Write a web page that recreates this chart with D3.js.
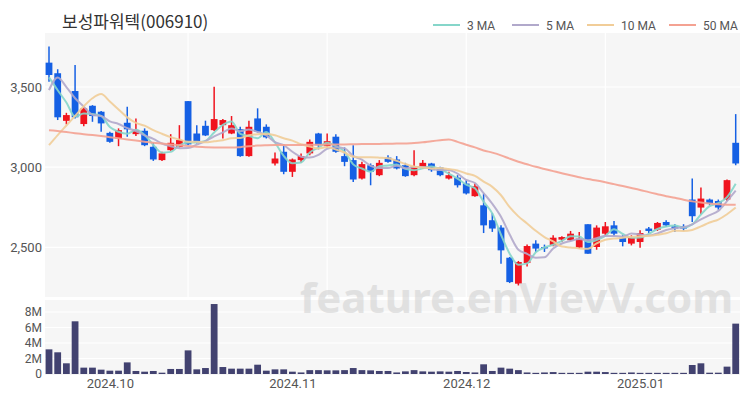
<!DOCTYPE html>
<html><head><meta charset="utf-8">
<script src="https://cdn.jsdelivr.net/npm/d3@7"></script>
<style>body{margin:0;background:#fff}svg{display:block}</style>
</head><body><svg id="c" width="750" height="400"></svg>
<script>
const title = "보성파워텍(006910)";
const openV  = [3652,3586,3289,3475,3269,3383,3346,3214,3179,3277,3206,3227,3127,3044,3106,3127,3412,3210,3258,3231,3262,3210,3237,3069,3304,3252,3023,3096,2971,3044,3086,3210,3131,3190,3069,3044,2929,3012,2950,3060,3048,3012,2950,3002,3023,2998,2929,2935,2898,2819,2762,2669,2623,2435,2273,2402,2523,2502,2512,2548,2544,2498,2644,2502,2585,2637,2560,2523,2533,2617,2610,2658,2631,2631,2798,2748,2798,2789,2798,3152];
const highV  = [3752,3611,3339,3637,3381,3387,3350,3221,3242,3377,3304,3242,3152,3096,3206,3262,3412,3262,3290,3502,3300,3319,3252,3290,3367,3267,3092,3144,3054,3086,3173,3214,3210,3206,3123,3137,3033,3023,3044,3075,3069,3027,3106,3044,3027,3002,2971,2950,2919,2898,2836,2714,2637,2440,2415,2517,2544,2517,2575,2569,2602,2596,2644,2637,2658,2664,2575,2575,2606,2627,2658,2669,2644,2644,2929,2873,2804,2798,2923,3331];
const lowV   = [3533,3294,3267,3304,3256,3283,3221,3152,3131,3189,3194,3131,3039,3039,3102,3123,3138,3148,3194,3225,3179,3206,3065,3065,3215,3179,3011,2956,2939,3027,3075,3111,3123,3090,3006,2908,2923,2887,2944,3027,2986,2940,2944,2992,2971,2944,2923,2873,2829,2815,2589,2596,2398,2277,2262,2381,2471,2471,2506,2533,2539,2492,2460,2485,2575,2569,2506,2512,2498,2589,2602,2627,2596,2602,2658,2706,2762,2735,2789,3012];
const closeV = [3575,3311,3325,3311,3367,3319,3273,3158,3231,3236,3231,3137,3048,3086,3152,3169,3142,3152,3198,3300,3294,3262,3069,3252,3221,3186,3054,2971,3048,3069,3158,3137,3162,3096,3033,2923,3019,2971,3027,3033,2992,2944,3006,3027,2981,2950,2950,2887,2836,2881,2637,2617,2481,2283,2408,2508,2492,2496,2560,2564,2585,2554,2460,2623,2631,2585,2533,2560,2589,2602,2652,2637,2617,2617,2694,2804,2773,2748,2919,3023];
const volumeM = [3.18,2.8,1.38,6.8,0.82,0.82,0.56,0.43,0.43,1.5,0.39,0.3,0.39,0.17,0.65,0.65,3.05,0.6,0.77,9.03,0.9,0.69,0.69,0.69,1.2,0.43,0.6,0.6,0.3,0.2,0.5,0.5,0.47,0.47,0.5,0.77,0.5,0.47,0.39,0.39,0.2,0.34,0.5,0.34,0.3,0.34,0.3,0.39,0.26,0.2,1.25,0.39,0.82,0.69,0.5,0.2,0.15,0.2,0.25,0.15,0.15,0.15,0.3,0.3,0.25,0.15,0.15,0.2,0.15,0.15,0.15,0.15,0.15,0.15,1.16,1.38,0.17,0.17,0.95,6.5];
// moving-average values before a full window exists
const ma3Lead  = [3560,3480];
const ma5Lead  = [3481,3560,3500,3430];
const ma10Lead = [3137,3200,3260,3320,3380,3430,3456,3410,3360];
const ma50Lead = [3231,3225,3219,3212,3206,3200,3194,3187,3180,3173,3166,3159,3152,3147,3142,3137,3132,3127,3125,3123,3122,3122,3125,3130,3135,3137,3138,3138,3138,3139,3140,3140,3141,3142,3142,3143,3144,3144,3145,3146,3147,3148,3150,3155,3162,3168,3172,3158,3140];
const maPeriods = [3,5,10,50];
const maLabels = ["3 MA","5 MA","10 MA","50 MA"];
const maColors = ["#86d6ca","#b1a9cb","#f1cd98","#f4a292"];
const priceTicks = [2500,3000,3500];
const volTicks = [0,2,4,6,8];
const volTickLabels = ["0","2M","4M","6M","8M"];
const xTickIdx = [7,28,48,68];
const xTickLabels = ["2024.10","2024.11","2024.12","2025.01"];
const vGridIdx = [16,32,48,64];

const n = closeV.length;
const leads = {3:ma3Lead,5:ma5Lead,10:ma10Lead,50:ma50Lead};
function ma(p){
  return d3.range(n).map(i => i < p-1 ? leads[p][i] : d3.mean(closeV.slice(i-p+1,i+1)));
}

const svg = d3.select("#c");
const font = "'Noto Sans CJK KR','Noto Sans',sans-serif";
const tickFont = "Roboto, 'Noto Sans', sans-serif";
const L = 45, R = 740, PT = 33, PB = 297, VT = 300, VB = 375;
const x = d3.scalePoint().domain(d3.range(n)).range([49, 735.7]);
const bw = x.step()*0.78;
const y = d3.scaleLinear().domain([2190,3837]).range([PB,PT]);
const yv = d3.scaleLinear().domain([0,9.55]).range([374,300]);

svg.append("rect").attr("x",L).attr("y",PT).attr("width",R-L).attr("height",PB-PT).attr("fill","#f6f6f6");
svg.append("rect").attr("x",L).attr("y",VT).attr("width",R-L).attr("height",VB-VT).attr("fill","#f6f6f6");

// grid
svg.append("g").selectAll("line").data(priceTicks).join("line")
  .attr("x1",L).attr("x2",R).attr("y1",d=>y(d)).attr("y2",d=>y(d)).attr("stroke","#fff").attr("stroke-width",1.2);
svg.append("g").selectAll("line").data(volTicks.slice(1)).join("line")
  .attr("x1",L).attr("x2",R).attr("y1",d=>yv(d)).attr("y2",d=>yv(d)).attr("stroke","#fff").attr("stroke-width",1.2);
svg.append("g").selectAll("line").data(vGridIdx).join("line")
  .attr("x1",d=>x(d)).attr("x2",d=>x(d)).attr("y1",PT).attr("y2",PB).attr("stroke","#fff").attr("stroke-width",1.2);

// axes labels
const yAxis = d3.axisLeft(y).tickValues(priceTicks).tickFormat(d3.format(",")).tickSize(0).tickPadding(3);
const ga = svg.append("g").attr("transform",`translate(${L},0)`).call(yAxis);
ga.select(".domain").remove();
ga.selectAll("text").attr("font-family",tickFont).attr("font-size",13).attr("fill","#555");
const vAxis = d3.axisLeft(yv).tickValues(volTicks).tickFormat((d,i)=>volTickLabels[i]).tickSize(0).tickPadding(3);
const gv = svg.append("g").attr("transform",`translate(${L},0)`).call(vAxis);
gv.select(".domain").remove();
gv.selectAll("text").attr("font-family",tickFont).attr("font-size",12).attr("fill","#555");
const xAxis = d3.axisBottom(x).tickValues(xTickIdx).tickFormat((d,i)=>xTickLabels[i]).tickSize(0).tickPadding(4);
const gx = svg.append("g").attr("transform",`translate(0,${VB})`).call(xAxis);
gx.select(".domain").remove();
gx.selectAll("text").attr("font-family",tickFont).attr("font-size",13).attr("fill","#555");

// volume
svg.append("g").selectAll("rect").data(volumeM).join("rect")
  .attr("x",(d,i)=>x(i)-bw/2).attr("width",bw)
  .attr("y",d=>yv(d)).attr("height",d=>Math.max(1,yv(0)-yv(d))).attr("fill","#424270");

// candles
const up = "#f0141e", dn = "#1560e4";
const cg = svg.append("g");
d3.range(n).forEach(i=>{
  const c = closeV[i] >= openV[i] ? up : dn;
  cg.append("line").attr("x1",x(i)).attr("x2",x(i)).attr("y1",y(highV[i])).attr("y2",y(lowV[i])).attr("stroke",c).attr("stroke-width",1.5);
  const top = y(Math.max(openV[i],closeV[i])), bot = y(Math.min(openV[i],closeV[i]));
  cg.append("rect").attr("x",x(i)-bw/2).attr("width",bw).attr("y",top).attr("height",Math.max(1.5,bot-top)).attr("fill",c);
});

// MAs
const line = d3.line().x((d,i)=>x(i)).y(d=>y(d)).curve(d3.curveMonotoneX);
maPeriods.forEach((p,k)=>{
  svg.append("path").datum(ma(p)).attr("d",line).attr("fill","none")
    .attr("stroke",maColors[k]).attr("stroke-width",2).attr("opacity",0.9);
});

// title & legend
svg.append("text").attr("x",62).attr("y",28).text(title).attr("font-family",font).attr("font-size",17).attr("fill","#333");
const legX = [433,512,587,669];
maLabels.forEach((lab,k)=>{
  svg.append("line").attr("x1",legX[k]).attr("x2",legX[k]+27).attr("y1",25).attr("y2",25).attr("stroke",maColors[k]).attr("stroke-width",2);
  svg.append("text").attr("x",legX[k]+34).attr("y",29.5).text(lab).attr("font-family",tickFont).attr("font-size",12).attr("fill","#555");
});

// watermark
svg.append("text").attr("x",300).attr("y",313).text("feature.enVievV.com")
  .attr("font-family","'Noto Sans',sans-serif").attr("font-weight","bold").attr("font-size",42).attr("fill","#cfcfcf").attr("opacity",0.55);
</script></body></html>
